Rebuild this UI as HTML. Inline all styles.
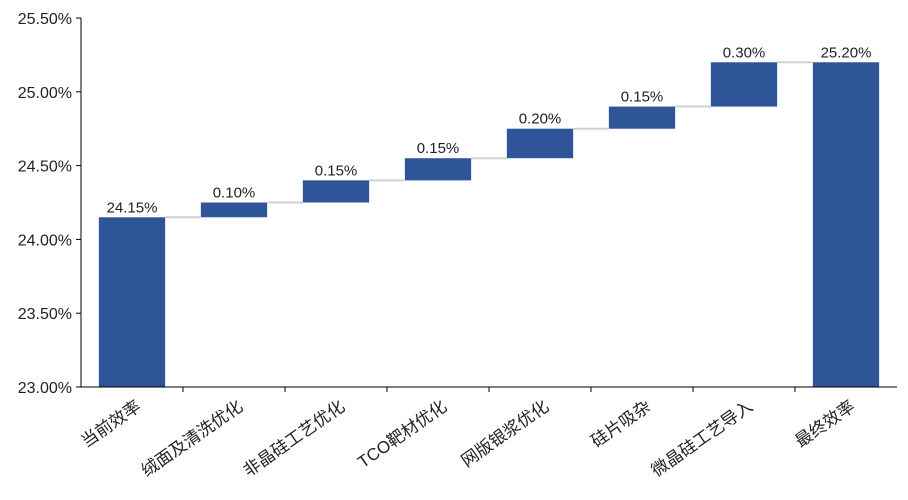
<!DOCTYPE html>
<html><head><meta charset="utf-8"><style>
body{margin:0;background:#fff;}
svg{display:block;font-family:"Liberation Sans","Noto Sans CJK SC",sans-serif;}
</style></head><body>
<svg id="chart" width="908" height="500"></svg>
<script>
const categories=["当前效率","绒面及清洗优化","非晶硅工艺优化","TCO靶材优化","网版银浆优化","硅片吸杂","微晶硅工艺导入","最终效率"];
const deltas=[24.15,0.10,0.15,0.15,0.20,0.15,0.30,25.20];
const valueLabels=["24.15%","0.10%","0.15%","0.15%","0.20%","0.15%","0.30%","25.20%"];
const yTicks=[23.0,23.5,24.0,24.5,25.0,25.5];
const yTickLabels=["23.00%","23.50%","24.00%","24.50%","25.00%","25.50%"];

const NS="http://www.w3.org/2000/svg";
const svg=document.getElementById('chart');
const X0=81,X1=897,Y0=387,Y1=18,YMIN=23,YMAX=25.5;
const step=(X1-X0)/categories.length, bw=step*0.65;
const y=v=>Y0-(v-YMIN)/(YMAX-YMIN)*(Y0-Y1);
const xc=i=>X0+step*(i+0.5);
function mk(t,a){const e=document.createElementNS(NS,t);for(const k in a)e.setAttribute(k,a[k]);svg.appendChild(e);return e;}

yTicks.forEach((v,i)=>{
  const t=mk('line',{x1:X0-5,x2:X0,y1:y(v),y2:y(v),stroke:'#000'});
  
  
  const l=mk('text',{x:X0-9,y:y(v)+6,'text-anchor':'end','font-size':16,fill:'#222'});
  l.textContent=yTickLabels[i];
  
  
});

let cum=0;const tops=[];
categories.forEach((c,i)=>{
  let lo,hi;
  if(i===0){lo=YMIN;hi=deltas[0];cum=hi;}
  else if(i===categories.length-1){lo=YMIN;hi=deltas[i];}
  else{lo=cum;hi=cum+deltas[i];cum=hi;}
  tops.push(hi);
  const r=mk('rect',{x:xc(i)-bw/2,y:y(hi),width:bw,height:y(lo)-y(hi),fill:'#2E5597'});
  
  
  const vl=mk('text',{x:xc(i),y:y(hi)-5,'text-anchor':'middle','font-size':15,fill:'#222'});
  vl.textContent=valueLabels[i];
  
  
  const cl=mk('text',{x:xc(i)+10,y:Y0+22,'text-anchor':'end','font-size':17,fill:'#222',transform:`rotate(-35 ${xc(i)+10} ${Y0+22})`});
  cl.textContent=c;
  
  
});
for(let i=0;i<tops.length-1;i++){
  const ln=mk('line',{x1:xc(i)+bw/2,x2:xc(i+1)-bw/2,y1:y(tops[i]),y2:y(tops[i]),stroke:'#d0d0d0','stroke-width':2});
  
  
}
for(let i=1;i<categories.length;i++){
  const t=mk('line',{x1:X0+step*i,x2:X0+step*i,y1:Y0,y2:Y0+5,stroke:'#000'});
  
  
}
const ya=mk('line',{x1:X0,x2:X0,y1:Y1,y2:Y0,stroke:'#000'});


const xa=mk('line',{x1:X0,x2:X1,y1:Y0,y2:Y0,stroke:'#000'});


</script>
</body></html>
